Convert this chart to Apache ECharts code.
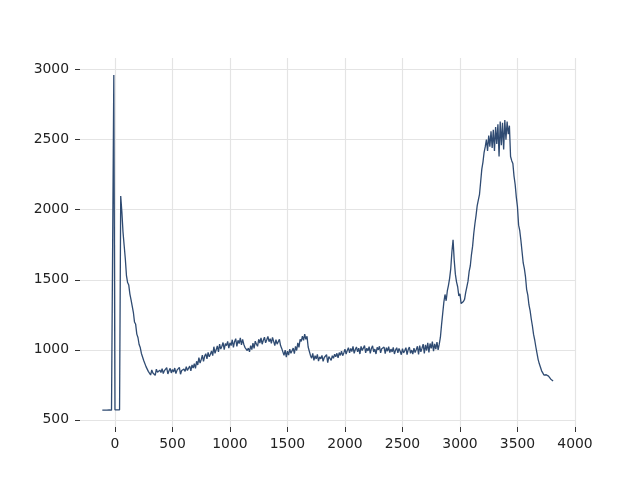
<!DOCTYPE html>
<html>
<head>
<meta charset="utf-8">
<script src="https://cdn.jsdelivr.net/npm/echarts@6/dist/echarts.min.js"></script>
<style>
html,body{margin:0;padding:0;background:#fff;}
#chart{width:640px;height:480px;}
</style>
</head>
<body>
<div id="chart"></div>
<script>
// Sampling grid of the trace (x positions, step 10)
const xStart = -110;
const xStep = 10;
// Intensity values, one per x position
const yValues = [
  570,
  569, 570, 568, 570, 569, 571, 570, 569, 571, 2962,
  572, 570, 571, 570, 572, 2098, 1985, 1840, 1745, 1650,
  1530, 1480, 1462, 1398, 1356, 1312, 1268, 1198, 1182, 1112,
  1088, 1038, 1016, 974, 960, 924, 910, 880, 868, 846,
  842, 820, 856, 835, 848, 818, 862, 840, 828, 855,
  838, 866, 830, 852, 845, 872, 828, 850, 868, 835,
  860, 842, 870, 830, 855, 848, 875, 826, 852, 838,
  862, 846, 880, 852, 868, 884, 850, 892, 870, 902,
  868, 918, 892, 945, 905, 930, 962, 918, 955, 972,
  935, 982, 950, 968, 992, 958, 1022, 975, 1000, 1028,
  985, 1040, 1005, 1025, 1052, 1002, 1045, 1030, 1060, 1012,
  1050, 1030, 1072, 1018, 1058, 1080, 1025, 1068, 1045, 1085,
  1035, 1075, 1040, 1018, 1030, 995, 1012, 985, 1030, 1002,
  1048, 1010, 1062, 1040, 1025, 1075, 1048, 1085, 1040, 1068,
  1090, 1050, 1072, 1095, 1058, 1080, 1046, 1088, 1060, 1030,
  1072, 1040, 1058, 1075, 1030, 1010, 985, 960, 998, 948,
  990, 962, 1005, 975, 988, 1012, 972, 1025, 995, 1050,
  1018, 1075, 1060, 1098, 1068, 1112, 1075, 1096, 1020, 990,
  960, 940, 975, 925, 958, 935, 968, 920, 950, 935,
  960, 918, 945, 935, 965, 908, 952, 940, 925, 958,
  940, 968, 950, 975, 942, 980, 960, 990, 958, 978,
  1005, 970, 995, 1015, 978, 1010, 988, 1025, 975, 1002,
  1020, 985, 1012, 970, 1025, 995, 1008, 1030, 978, 1012,
  992, 1022, 975, 1010, 1028, 985, 1005, 970, 1018, 1000,
  1025, 978, 1008, 995, 1020, 972, 1015, 990, 1022, 980,
  1005, 985, 1018, 970, 998, 1015, 978, 1010, 990, 965,
  1008, 978, 995, 1015, 965, 1002, 1020, 975, 998, 970,
  1012, 980, 1002, 1025, 968, 1030, 985, 1012, 1040, 975,
  1035, 995, 1050, 982, 1045, 1010, 1058, 990, 1042, 1005,
  1055, 1000, 1040, 1090, 1180, 1260, 1340, 1395, 1350, 1420,
  1460, 1510, 1580, 1700, 1785, 1640, 1540, 1485, 1450, 1385,
  1400, 1330, 1320, 1345, 1360, 1410, 1450, 1490, 1560, 1600,
  1680, 1740, 1830, 1900, 1960, 2030, 2070, 2110, 2200, 2290,
  2340, 2410, 2450, 2500, 2420, 2530, 2450, 2560, 2440, 2570,
  2420, 2590, 2470, 2610, 2380, 2630, 2460, 2620, 2430, 2640,
  2500, 2630, 2540, 2600, 2380, 2350, 2330, 2240, 2180, 2090,
  2020, 1890, 1850, 1780, 1700, 1620, 1580, 1520, 1430, 1390,
  1320, 1280, 1220, 1170, 1110, 1070, 1020, 975, 930, 900,
  875, 850, 835, 820, 815, 822, 808, 812, 798, 790,
  785, 778
];
const xTicks = [0, 500, 1000, 1500, 2000, 2500, 3000, 3500, 4000];
const yTicks = [500, 1000, 1500, 2000, 2500, 3000];

const seriesData = yValues.map((v, i) => [xStart + i * xStep, v]);

const chart = echarts.init(document.getElementById('chart'), null, {renderer: 'canvas'});
const gridColor = '#e4e4e4';
const textStyle = {color: '#222', fontFamily: 'DejaVu Sans', fontSize: 13.9, formatter: v => String(v)};
chart.setOption({
  animation: false,
  backgroundColor: '#ffffff',
  grid: {left: 80, right: 64, top: 58, bottom: 53, containLabel: false},
  xAxis: {
    type: 'value',
    min: -304, max: 4009,
    axisLine: {show: false, onZero: false},
    axisTick: {show: true, length: 5, customValues: xTicks, lineStyle: {color: '#333', width: 1}},
    axisLabel: Object.assign({margin: 10, customValues: xTicks}, textStyle),
    splitLine: {show: true, lineStyle: {color: gridColor, width: 1.2}}
  },
  yAxis: {
    type: 'value',
    min: 449, max: 3083,
    axisLine: {show: false, onZero: false},
    axisTick: {show: true, length: 5, customValues: yTicks, lineStyle: {color: '#333', width: 1}},
    axisLabel: Object.assign({margin: 11, customValues: yTicks}, textStyle),
    splitLine: {show: true, lineStyle: {color: gridColor, width: 1.2}}
  },
  series: [{
    type: 'line',
    data: seriesData,
    showSymbol: false,
    symbol: 'none',
    lineStyle: {color: '#2f4b72', width: 1.3},
    clip: true
  }]
});
</script>
</body>
</html>
